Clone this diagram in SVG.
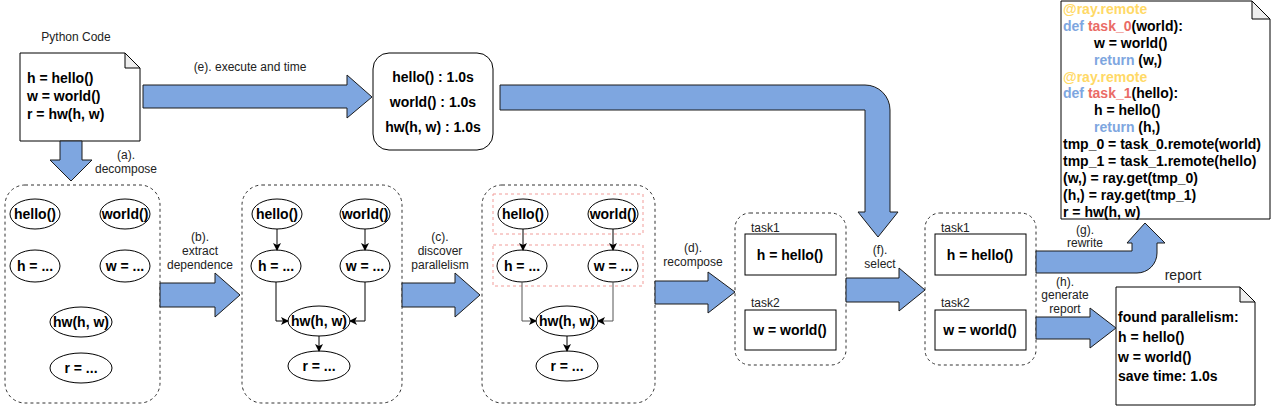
<svg xmlns="http://www.w3.org/2000/svg" width="1271" height="407" viewBox="0 0 1271 407">
<defs>
<style>
.bg{fill:#fff}
.big{fill:#7EA6E0;stroke:#1a1a1a;stroke-width:1}
.panel{fill:none;stroke:#333;stroke-width:1;stroke-dasharray:3 3}
.red{fill:none;stroke:#F19C99;stroke-width:1;stroke-dasharray:3 3}
.node{fill:#fff;stroke:#000;stroke-width:1}
.doc{fill:#fff;stroke:#000;stroke-width:1}
.fold{fill:#eee;stroke:#000;stroke-width:1}
.b{font-family:"Liberation Sans",Arial,sans-serif;font-size:14px;font-weight:bold;fill:#000}
.bc{font-family:"Liberation Sans",Arial,sans-serif;font-size:14px;font-weight:bold;fill:#000;text-anchor:middle}
.lbl{font-family:"Liberation Sans",Arial,sans-serif;font-size:12px;fill:#222;text-anchor:middle}
.tl{font-family:"Liberation Sans",Arial,sans-serif;font-size:12px;fill:#222}
.edge{fill:none;stroke:#000;stroke-width:1}
.edge2{fill:none;stroke:#555;stroke-width:1}
.y{fill:#FFD966}.bl{fill:#7EA6E0}.r{fill:#EA6B66}
</style>
<marker id="ah" markerWidth="8" markerHeight="8" refX="7" refY="4" orient="auto" markerUnits="userSpaceOnUse">
<path d="M0,0 L8,4 L0,8 L2,4 Z" fill="#000"/>
</marker>
</defs>
<rect class="bg" x="0" y="0" width="1271" height="407"/>

<g id="python-code">
<text class="lbl" x="76" y="41">Python Code</text>
<path class="doc" d="M20,53 H125 L140,68 V141 H20 Z"/>
<path class="fold" d="M125,53 V68 H140 Z"/>
<text class="b" x="27" y="83">h = hello()</text>
<text class="b" x="27" y="101">w = world()</text>
<text class="b" x="27" y="119">r = hw(h, w)</text>
</g>

<g id="timing">
<rect class="node" x="373" y="53" width="120" height="97" rx="16"/>
<text class="bc" x="433" y="82">hello() : 1.0s</text>
<text class="bc" x="433" y="107">world() : 1.0s</text>
<text class="bc" x="433" y="132">hw(h, w) : 1.0s</text>
</g>

<g id="panel-decompose">
<rect class="panel" x="5" y="185" width="155" height="218" rx="20"/>
<ellipse class="node" cx="35" cy="214" rx="25" ry="15"/><text class="bc" x="35" y="219">hello()</text>
<ellipse class="node" cx="125" cy="214" rx="25" ry="15"/><text class="bc" x="125" y="219">world()</text>
<ellipse class="node" cx="35" cy="266" rx="25" ry="16"/><text class="bc" x="35" y="271">h = ...</text>
<ellipse class="node" cx="125" cy="266" rx="25" ry="16"/><text class="bc" x="125" y="271">w = ...</text>
<ellipse class="node" cx="81" cy="322" rx="31" ry="15"/><text class="bc" x="81" y="327">hw(h, w)</text>
<ellipse class="node" cx="81" cy="368" rx="31" ry="15"/><text class="bc" x="81" y="373">r = ...</text>
</g>

<g id="panel-dependence">
<rect class="panel" x="242" y="185" width="160" height="218" rx="20"/>
<ellipse class="node" cx="277" cy="214" rx="25" ry="15"/><text class="bc" x="277" y="219">hello()</text>
<ellipse class="node" cx="365" cy="214" rx="25" ry="15"/><text class="bc" x="365" y="219">world()</text>
<ellipse class="node" cx="276" cy="266" rx="25" ry="16"/><text class="bc" x="276" y="271">h = ...</text>
<ellipse class="node" cx="365" cy="266" rx="25" ry="16"/><text class="bc" x="365" y="271">w = ...</text>
<ellipse class="node" cx="319" cy="321" rx="31" ry="15"/><text class="bc" x="319" y="326">hw(h, w)</text>
<ellipse class="node" cx="319" cy="366" rx="31" ry="15"/><text class="bc" x="319" y="371">r = ...</text>
</g>

<g id="panel-parallelism">
<rect class="panel" x="482" y="185" width="173" height="218" rx="20"/>
<rect class="red" x="493" y="194" width="150" height="40"/>
<rect class="red" x="493" y="245" width="150" height="41"/>
<ellipse class="node" cx="523" cy="214" rx="25" ry="15"/><text class="bc" x="523" y="219">hello()</text>
<ellipse class="node" cx="613" cy="214" rx="25" ry="15"/><text class="bc" x="613" y="219">world()</text>
<ellipse class="node" cx="522" cy="266" rx="25" ry="16"/><text class="bc" x="522" y="271">h = ...</text>
<ellipse class="node" cx="613" cy="266" rx="25" ry="16"/><text class="bc" x="613" y="271">w = ...</text>
<ellipse class="node" cx="567" cy="321" rx="31" ry="15"/><text class="bc" x="567" y="326">hw(h, w)</text>
<ellipse class="node" cx="567" cy="366" rx="31" ry="15"/><text class="bc" x="567" y="371">r = ...</text>
</g>

<g id="panel-tasks">
<rect class="panel" x="735" y="213" width="111" height="152" rx="15"/>
<text class="tl" x="751" y="232">task1</text>
<rect class="node" x="745" y="234" width="91" height="41"/>
<text class="bc" x="790" y="260">h = hello()</text>
<text class="tl" x="751" y="307">task2</text>
<rect class="node" x="745" y="310" width="91" height="40"/>
<text class="bc" x="790" y="335">w = world()</text>
</g>

<g id="panel-selected">
<rect class="panel" x="925" y="213" width="111" height="152" rx="15"/>
<text class="tl" x="941" y="232">task1</text>
<rect class="node" x="935" y="234" width="91" height="41"/>
<text class="bc" x="980" y="260">h = hello()</text>
<text class="tl" x="941" y="307">task2</text>
<rect class="node" x="935" y="310" width="91" height="40"/>
<text class="bc" x="980" y="335">w = world()</text>
</g>

<g id="ray-code">
<path class="doc" d="M1061,1 H1252 L1270,19 V219 H1061 Z"/>
<path class="fold" d="M1252,1 V19 H1270 Z"/>
<text class="b" x="1063" y="14"><tspan class="y">@ray.remote</tspan></text>
<text class="b" x="1063" y="31"><tspan class="bl">def </tspan><tspan class="r">task_0</tspan>(world):</text>
<text class="b" x="1094" y="48">w = world()</text>
<text class="b" x="1094" y="65"><tspan class="bl">return</tspan> (w,)</text>
<text class="b" x="1063" y="82"><tspan class="y">@ray.remote</tspan></text>
<text class="b" x="1063" y="98"><tspan class="bl">def </tspan><tspan class="r">task_1</tspan>(hello):</text>
<text class="b" x="1094" y="115">h = hello()</text>
<text class="b" x="1094" y="132"><tspan class="bl">return</tspan> (h,)</text>
<text class="b" x="1063" y="149">tmp_0 = task_0.remote(world)</text>
<text class="b" x="1063" y="166">tmp_1 = task_1.remote(hello)</text>
<text class="b" x="1063" y="183">(w,) = ray.get(tmp_0)</text>
<text class="b" x="1063" y="200">(h,) = ray.get(tmp_1)</text>
<text class="b" x="1063" y="217">r = hw(h, w)</text>
</g>

<g id="report">
<text class="lbl" x="1183" y="280" style="font-size:14px">report</text>
<path class="doc" d="M1116,287 H1240 L1255,302 V405 H1116 Z"/>
<path class="fold" d="M1240,287 V302 H1255 Z"/>
<text class="b" x="1118" y="322">found parallelism:</text>
<text class="b" x="1118" y="342">h = hello()</text>
<text class="b" x="1118" y="362">w = world()</text>
<text class="b" x="1118" y="381">save time: 1.0s</text>
</g>

<g id="connectors">
<path class="edge" d="M277,229 V250" marker-end="url(#ah)"/>
<path class="edge" d="M365,229 V250" marker-end="url(#ah)"/>
<path class="edge" d="M276,282 V321 H288" marker-end="url(#ah)"/>
<path class="edge" d="M365,282 V321 H350" marker-end="url(#ah)"/>
<path class="edge" d="M319,336 V351" marker-end="url(#ah)"/>
<path class="edge" d="M523,229 V250" marker-end="url(#ah)"/>
<path class="edge" d="M613,229 V250" marker-end="url(#ah)"/>
<path class="edge2" d="M522,282 V321 H536" marker-end="url(#ah)"/>
<path class="edge2" d="M613,282 V321 H598" marker-end="url(#ah)"/>
<path class="edge" d="M567,336 V351" marker-end="url(#ah)"/>

<path class="big" d="M60,141 H82 V160 H92 L71,181 L50,160 H60 Z"/>
<text class="lbl" x="126" y="159">(a).</text>
<text class="lbl" x="126" y="173">decompose</text>

<path class="big" d="M143,85 H347 V75 L372,97 L347,118 V108 H143 Z"/>
<text class="lbl" x="250" y="71">(e). execute and time</text>

<path class="big" d="M500,85 H865 A25,25 0 0 1 890,110 V212 H898 L878,237 L858,212 H865 V110 H500 Z"/>

<path class="big" d="M160,283 H215 V273 L240,295 L215,317 V307 H160 Z"/>
<text class="lbl" x="200" y="241">(b).</text>
<text class="lbl" x="200" y="255">extract</text>
<text class="lbl" x="200" y="269">dependence</text>

<path class="big" d="M402,283 H455 V273 L480,295 L455,317 V307 H402 Z"/>
<text class="lbl" x="440" y="241">(c).</text>
<text class="lbl" x="440" y="255">discover</text>
<text class="lbl" x="440" y="269">parallelism</text>

<path class="big" d="M655,281 H708 V272 L735,292 L708,313 V304 H655 Z"/>
<text class="lbl" x="693" y="252">(d).</text>
<text class="lbl" x="693" y="266">recompose</text>

<path class="big" d="M846,278 H899 V268 L925,290 L899,311 V302 H846 Z"/>
<text class="lbl" x="880" y="254">(f).</text>
<text class="lbl" x="880" y="268">select</text>

<path class="big" d="M1036,251 H1132 V243 H1127 L1145,223 L1165,243 H1157 V253 A20,20 0 0 1 1137,273 H1036 Z"/>
<text class="lbl" x="1085" y="234">(g).</text>
<text class="lbl" x="1085" y="247">rewrite</text>

<path class="big" d="M1036,317 H1090 V308 L1116,328 L1090,348 V339 H1036 Z"/>
<text class="lbl" x="1065" y="286">(h).</text>
<text class="lbl" x="1065" y="299">generate</text>
<text class="lbl" x="1065" y="313">report</text>
</g>
</svg>
